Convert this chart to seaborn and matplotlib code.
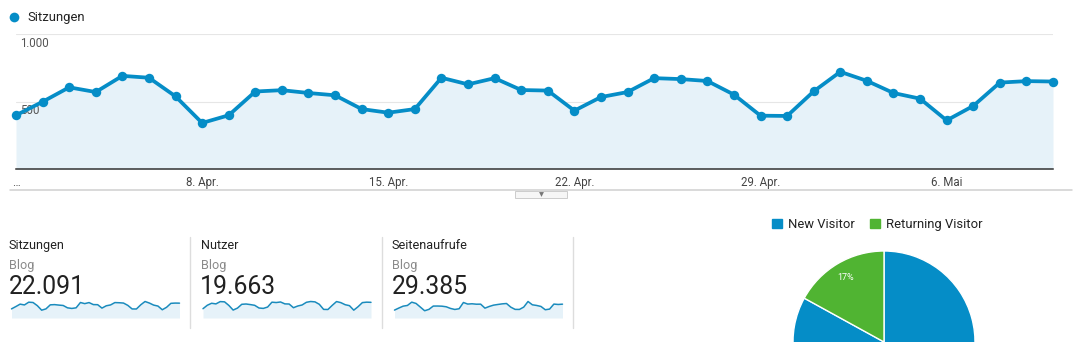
import numpy as np
import matplotlib
matplotlib.use("Agg")
import matplotlib.pyplot as plt
import seaborn as sns
from matplotlib.lines import Line2D
from matplotlib.patches import Rectangle, Patch

# Daily values, 1. Apr. – 10. Mai
sessions = [398, 498, 605, 570, 690, 676, 538, 341, 398, 574,
            584, 563, 546, 444, 417, 444, 676, 627, 673, 585,
            581, 432, 533, 570, 673, 666, 652, 551, 395, 393,
            575, 720, 653, 563, 521, 360, 467, 640, 651, 648]
users = [349, 478, 553, 529, 615, 606, 472, 298, 371, 514,
         525, 503, 476, 375, 360, 411, 593, 580, 601, 530,
         524, 386, 450, 488, 589, 619, 605, 514, 323, 319,
         474, 617, 576, 499, 463, 294, 424, 578, 594, 588]
pageviews = [491, 618, 736, 780, 985, 905, 679, 451, 537, 742,
             744, 735, 698, 595, 531, 575, 964, 866, 884, 858,
             861, 613, 718, 800, 841, 879, 901, 674, 536, 532,
             678, 1026, 821, 780, 718, 513, 554, 865, 841, 860]

x_labels = ["…", "8. Apr.", "15. Apr.", "22. Apr.", "29. Apr.", "6. Mai"]
y_ticks = [0, 500, 1000]

metric_names = ["Sitzungen", "Nutzer", "Seitenaufrufe"]
segment_name = "Blog"

visitor_types = ["New Visitor", "Returning Visitor"]
visitor_share = [83, 17]

BLUE = "#058dc7"
GREEN = "#50b432"
FILL = "#e6f2f9"

sns.set_theme(style="white")
plt.rcParams["font.family"] = ["Roboto", "DejaVu Sans"]

W, H = 1080, 342
fig = plt.figure(figsize=(W / 100, H / 100), dpi=100)
fig.patch.set_facecolor("white")


def box(l, t, r, b):
    """Pixel box (left, top, right, bottom) -> figure fraction rect."""
    return [l / W, 1 - b / H, (r - l) / W, (b - t) / H]


def fx(px):
    return px / W


def fy(py):
    return 1 - py / H


def de_num(v):
    return f"{v:,}".replace(",", ".")


# ---- main time series -------------------------------------------------------
ax = fig.add_axes(box(16, 34, 1053, 169))
x = np.arange(len(sessions))
ax.fill_between(x, sessions, 0, color=FILL, lw=0, zorder=1)
sns.lineplot(x=x, y=sessions, ax=ax, color=BLUE, lw=2.7, marker="o",
             markersize=6.8, markeredgewidth=0, clip_on=False, zorder=4)
ax.set_xlim(0, len(x) - 1)
ax.set_ylim(0, 1000)
ax.set_yticks(y_ticks)
ax.set_yticklabels([])
ax.grid(axis="y", color="#e6e6e6", lw=0.8)
ax.grid(axis="x", visible=False)
ax.set_xticks(x[::7])
ax.set_xticklabels(x_labels)
ax.tick_params(axis="x", length=0, pad=5, labelsize=8.3, labelcolor="#444444")
ax.tick_params(axis="y", length=0)
for s in ["left", "right", "top"]:
    ax.spines[s].set_visible(False)
ax.spines["bottom"].set_color("#333333")
ax.spines["bottom"].set_linewidth(1.1)
ax.set_xlabel("")
ax.set_ylabel("")
for v in y_ticks[1:]:
    ax.annotate(de_num(v), xy=(0, v), xycoords=ax.get_yaxis_transform(),
                xytext=(3, -6.8), textcoords="offset points", ha="left",
                va="center", fontsize=8.3, color="#555555", zorder=2)

# series legend
fig.add_artist(Line2D([fx(14)], [fy(17)], marker="o", ms=7, mew=0, color=BLUE,
                      transform=fig.transFigure))
fig.text(fx(27), fy(17), "Sitzungen", va="center", ha="left", fontsize=9.4,
         color="#222222")

# divider with collapse button
fig.add_artist(Line2D([fx(10), fx(1072)], [fy(190.5), fy(190.5)],
                      color="#d0d0d0", lw=1.1, transform=fig.transFigure))
fig.add_artist(Rectangle((fx(515), fy(198)), 52 / W, 7 / H,
                         transform=fig.transFigure, fc="#f6f6f6",
                         ec="#cccccc", lw=0.7))
fig.add_artist(Line2D([fx(541)], [fy(194)], marker="v", ms=3.5, mew=0,
                      color="#777777", transform=fig.transFigure))

# ---- metric panels with sparklines -------------------------------------------
for i, (name, data) in enumerate(zip(metric_names, [sessions, users, pageviews])):
    left = 9 + i * 191.5
    fig.text(fx(left), fy(245.5), name, ha="left", va="center",
             fontsize=9.1, color="#222222")
    fig.text(fx(left), fy(265), segment_name, ha="left", va="center",
             fontsize=9.1, color="#8a8a8a")
    fig.text(fx(left - 0.5), fy(286.5), de_num(sum(data)), ha="left",
             va="center", fontsize=17.8, color="#212121")

    sax = fig.add_axes(box(left + 2.5, 301.5, left + 170.5, 318))
    sx = np.arange(len(data))
    sax.fill_between(sx, data, 0, color=FILL, lw=0)
    sns.lineplot(x=sx, y=data, ax=sax, color="#1a8bbd", lw=1.1, clip_on=False)
    sax.set_xlim(0, len(data) - 1)
    sax.set_ylim(0, max(data))
    sax.axis("off")

    sep = left + 181
    fig.add_artist(Line2D([fx(sep), fx(sep)], [fy(237), fy(328)],
                          color="#dddddd", lw=1.0, transform=fig.transFigure))

# ---- visitor type pie --------------------------------------------------------
cx, cy, r = 884, 342, 91
pax = fig.add_axes(box(cx - r, cy - r, cx + r, cy + r))
_, _, pct_texts = pax.pie(visitor_share, colors=[BLUE, GREEN], startangle=90,
                          counterclock=False,
                          wedgeprops=dict(edgecolor="white", linewidth=1.0),
                          autopct=lambda p: f"{p:.0f}%", pctdistance=0.82,
                          textprops=dict(color="white", fontsize=6.5))
pax.set_xlim(-1, 1)
pax.set_ylim(-1, 1)

# only the labels of slices whose label spot lies on the canvas are kept
fig.canvas.draw()
for t in pct_texts:
    _, py = t.get_window_extent().get_points()[0]
    if py < 0:
        t.set_visible(False)

fig.legend(handles=[Patch(color=c, label=l) for c, l in zip([BLUE, GREEN], visitor_types)],
           loc="center", bbox_to_anchor=(fx(877), fy(224.5)), ncol=2,
           frameon=False, fontsize=9.4, handlelength=0.75, handleheight=0.75,
           handletextpad=0.45, columnspacing=1.2, borderpad=0,
           borderaxespad=0, labelcolor="#222222")

fig.savefig("out.png", dpi=100, facecolor="white")
